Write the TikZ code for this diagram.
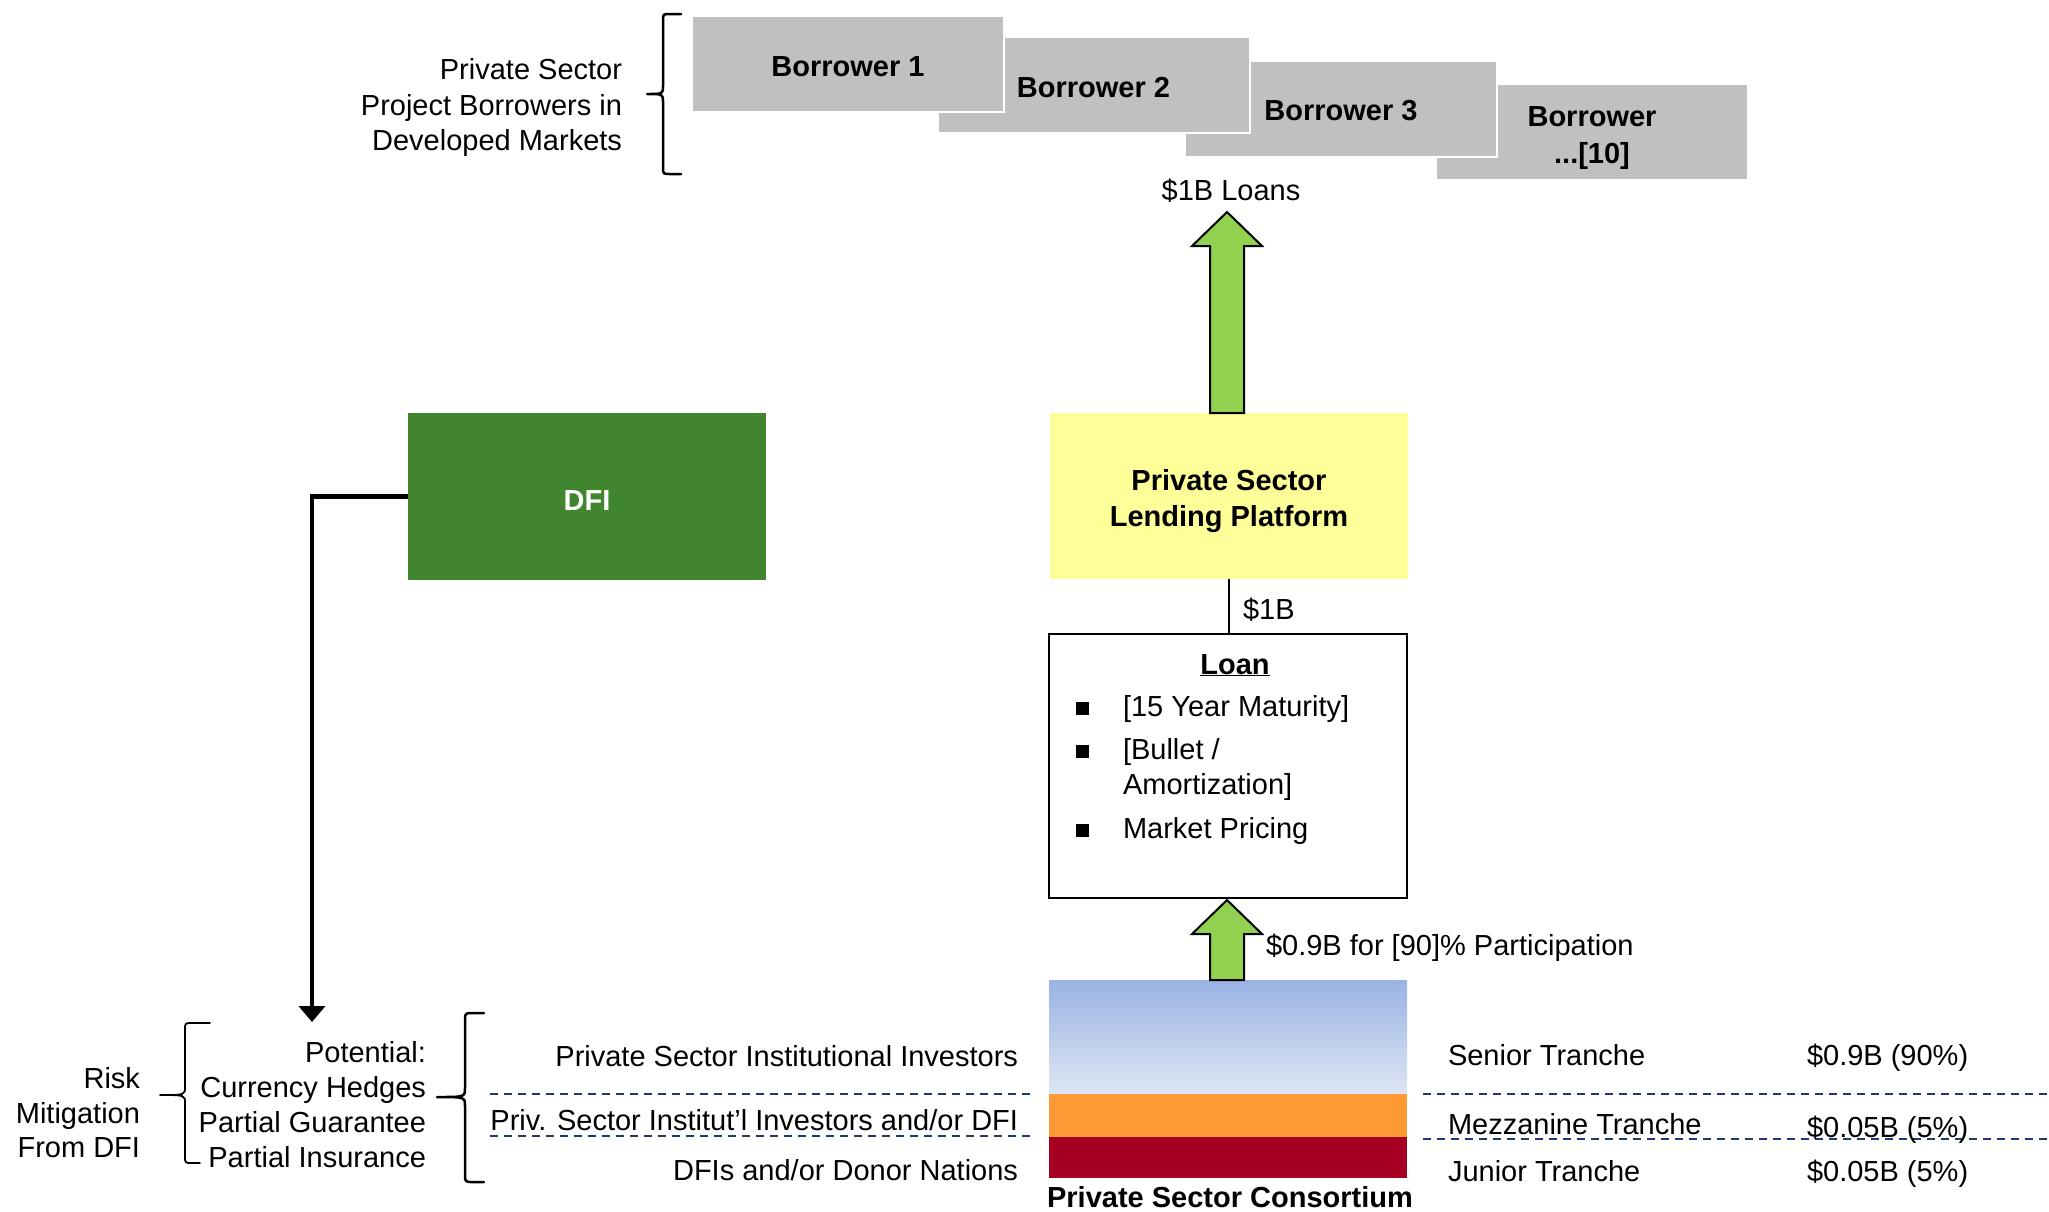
\documentclass[tikz,border=0pt]{standalone}
\usepackage{fontspec}
\setmainfont{Liberation Sans}
\usetikzlibrary{arrows.meta,calc}
\definecolor{dfigreen}{HTML}{41852F}
\definecolor{platyellow}{HTML}{FFFF99}
\definecolor{arrgreen}{HTML}{92D050}
\definecolor{bgray}{HTML}{C0C0C0}
\definecolor{mezzorange}{HTML}{FF9933}
\definecolor{juniorred}{HTML}{A50021}
\definecolor{bluetop}{HTML}{99B3E3}
\definecolor{bluebot}{HTML}{DEE6F3}
\definecolor{sepnavy}{HTML}{203A70}
\begin{document}
\begin{tikzpicture}[x=1pt,y=-1pt,
  every node/.style={inner sep=0pt, outer sep=0pt, font=\fontsize{29}{35}\selectfont},
  bbox/.style={rectangle, fill=bgray, draw=white, line width=2pt, minimum width=312pt, minimum height=96pt},
  boldtxt/.style={anchor=base, font=\fontsize{29}{35}\selectfont\bfseries},
  lbl/.style={anchor=base east},
  lblw/.style={anchor=base west},
  blockarr/.style={fill=arrgreen, draw=black, line width=2pt, line join=miter},
  sep/.style={draw=sepnavy, line width=2pt, dash pattern=on 8pt off 6pt},
  bracepath/.style={draw=black, line width=2.5pt, line cap=round, line join=round},
  stackbox/.style={rectangle, minimum width=358pt},
  bullet/.style={fill=black, minimum size=13pt, anchor=south west}
]
\useasboundingbox (0,0) rectangle (2049,1211);

% Borrowers (back to front)
\node[bbox] (b4) at (1592,132) {};
\node[boldtxt] (b4ta) at (1592,126) {Borrower};
\node[boldtxt] (b4tb) at (1592,163) {...[10]};
\node[bbox] (b3) at (1341,108.5) {};
\node[boldtxt] (b3t) at (1341,120) {Borrower 3};
\node[bbox] (b2) at (1093.5,85) {};
\node[boldtxt] (b2t) at (1093.5,97) {Borrower 2};
\node[bbox] (b1) at (848,64) {};
\node[boldtxt] (b1t) at (848,76) {Borrower 1};

% top-left label
\node[lbl] (tl1) at (622,79) {Private Sector};
\node[lbl] (tl2) at (622,115) {Project Borrowers in};
\node[lbl] (tl3) at (622,150) {Developed Markets};
\draw[bracepath] (681,14) -- (670,14) .. controls (663,14) .. (663,21) -- (663,86)
  .. controls (663,94) .. (647,94) .. controls (663,94) .. (663,102) -- (663,167)
  .. controls (663,174) .. (670,174) -- (681,174);

\node[anchor=base] (loans) at (1231,200.5) {\$1B Loans};

% platform
\node[fill=platyellow, minimum width=358pt, minimum height=166pt] (plat) at (1229,496) {};
\node[boldtxt] (pt1) at (1229,490) {Private Sector};
\node[boldtxt] (pt2) at (1229,526) {Lending Platform};

% top block arrow
\coordinate (tipA) at (1227,212);
\draw[blockarr] (tipA) -- ($(tipA)+(35,34)$) -- ($(tipA)+(17,34)$) -- ($(tipA|-plat.north)+(17,0)$)
  -- ($(tipA|-plat.north)+(-17,0)$) -- ($(tipA)+(-17,34)$) -- ($(tipA)+(-35,34)$) -- cycle;

% DFI
\node[fill=dfigreen, minimum width=358pt, minimum height=167pt] (dfi) at (587,496.5) {};
\node[boldtxt, text=white] (dfit) at (587,510) {DFI};

% loan box
\node[draw=black, line width=2.5pt, minimum width=358pt, minimum height=264pt] (loan) at (1228,766) {};
\draw[line width=1.5pt] (plat.south) -- (plat.south |- loan.north);
\node[lblw] (onebn) at (1243,619) {\$1B};
\node[boldtxt] (loant) at (1235,674) {\underline{Loan}};
\node[bullet] (bu1) at (1076,715) {};
\node[bullet] (bu2) at (1076,758) {};
\node[bullet] (bu3) at (1076,837) {};
\node[lblw] (li1) at (1123,716) {[15 Year Maturity]};
\node[lblw] (li2) at (1123,759) {[Bullet /};
\node[lblw] (li2b) at (1123,794) {Amortization]};
\node[lblw] (li3) at (1123,838) {Market Pricing};

% tranche stack
\node[stackbox, minimum height=114pt, top color=bluetop, bottom color=bluebot] (senior) at (1228,1037) {};
\node[stackbox, minimum height=43pt, fill=mezzorange] (mezz) at (1228,1115.5) {};
\node[stackbox, minimum height=41pt, fill=juniorred] (junior) at (1228,1157.5) {};
\node[boldtxt] (cons) at (1230,1207.5) {Private Sector Consortium};

% lower block arrow
\coordinate (tipB) at (1227,900);
\draw[blockarr] (tipB) -- ($(tipB)+(35,34)$) -- ($(tipB)+(17,34)$) -- ($(tipB|-senior.north)+(17,0)$)
  -- ($(tipB|-senior.north)+(-17,0)$) -- ($(tipB)+(-17,34)$) -- ($(tipB)+(-35,34)$) -- cycle;
\node[lblw] (part) at (1266,955.5) {\$0.9B for [90]\% Participation};

% separators
\draw[sep] (490,1094) -- (1030,1094);
\draw[sep] (490,1136) -- (1030,1136);
\draw[sep] (1423,1094) -- (2049,1094);
\draw[sep] (1423,1139) -- (2049,1139);

% investor labels
\node[lbl] (inv1) at (1018,1066.5) {Private Sector Institutional Investors};
\node[lbl] (inv2) at (1018,1130.5) {Priv. Sector Institut’l Investors and/or DFI};
\node[lbl] (inv3) at (1018,1180.5) {DFIs and/or Donor Nations};

% tranche labels
\node[lblw] (tr1) at (1448,1065.5) {Senior Tranche};
\node[lblw] (tr2) at (1448,1134.5) {Mezzanine Tranche};
\node[lblw] (tr3) at (1448,1181.5) {Junior Tranche};
\node[lblw] (am1) at (1807,1065.5) {\$0.9B (90\%)};
\node[lblw] (am2) at (1807,1137) {\$0.05B (5\%)};
\node[lblw] (am3) at (1807,1181.5) {\$0.05B (5\%)};

% potential block
\node[lbl] (po1) at (426,1062) {Potential:};
\node[lbl] (po2) at (426,1097) {Currency Hedges};
\node[lbl] (po3) at (426,1132) {Partial Guarantee};
\node[lbl] (po4) at (426,1167) {Partial Insurance};
\draw[bracepath] (484,1013) -- (473,1013) .. controls (465,1013) .. (465,1021) -- (465,1088)
  .. controls (465,1097) .. (437,1097) .. controls (465,1097) .. (465,1106) -- (465,1174)
  .. controls (465,1182) .. (473,1182) -- (484,1182);

% risk block
\node[lbl] (rk1) at (140,1088.5) {Risk};
\node[lbl] (rk2) at (140,1123.5) {Mitigation};
\node[lbl] (rk3) at (140,1157.5) {From DFI};
\draw[bracepath, line width=1.8pt] (210,1023) -- (192,1023) .. controls (185,1023) .. (185,1030) -- (185,1087)
  .. controls (185,1095) .. (160,1095) .. controls (185,1095) .. (185,1103) -- (185,1156)
  .. controls (185,1163) .. (192,1163) -- (200,1163);

% DFI connector
\coordinate (riskT) at (312,1022);
\draw[line width=4.5pt, -{Triangle[length=16pt,width=26pt]}] (dfi.west) -| (riskT);
\end{tikzpicture}
\end{document}
